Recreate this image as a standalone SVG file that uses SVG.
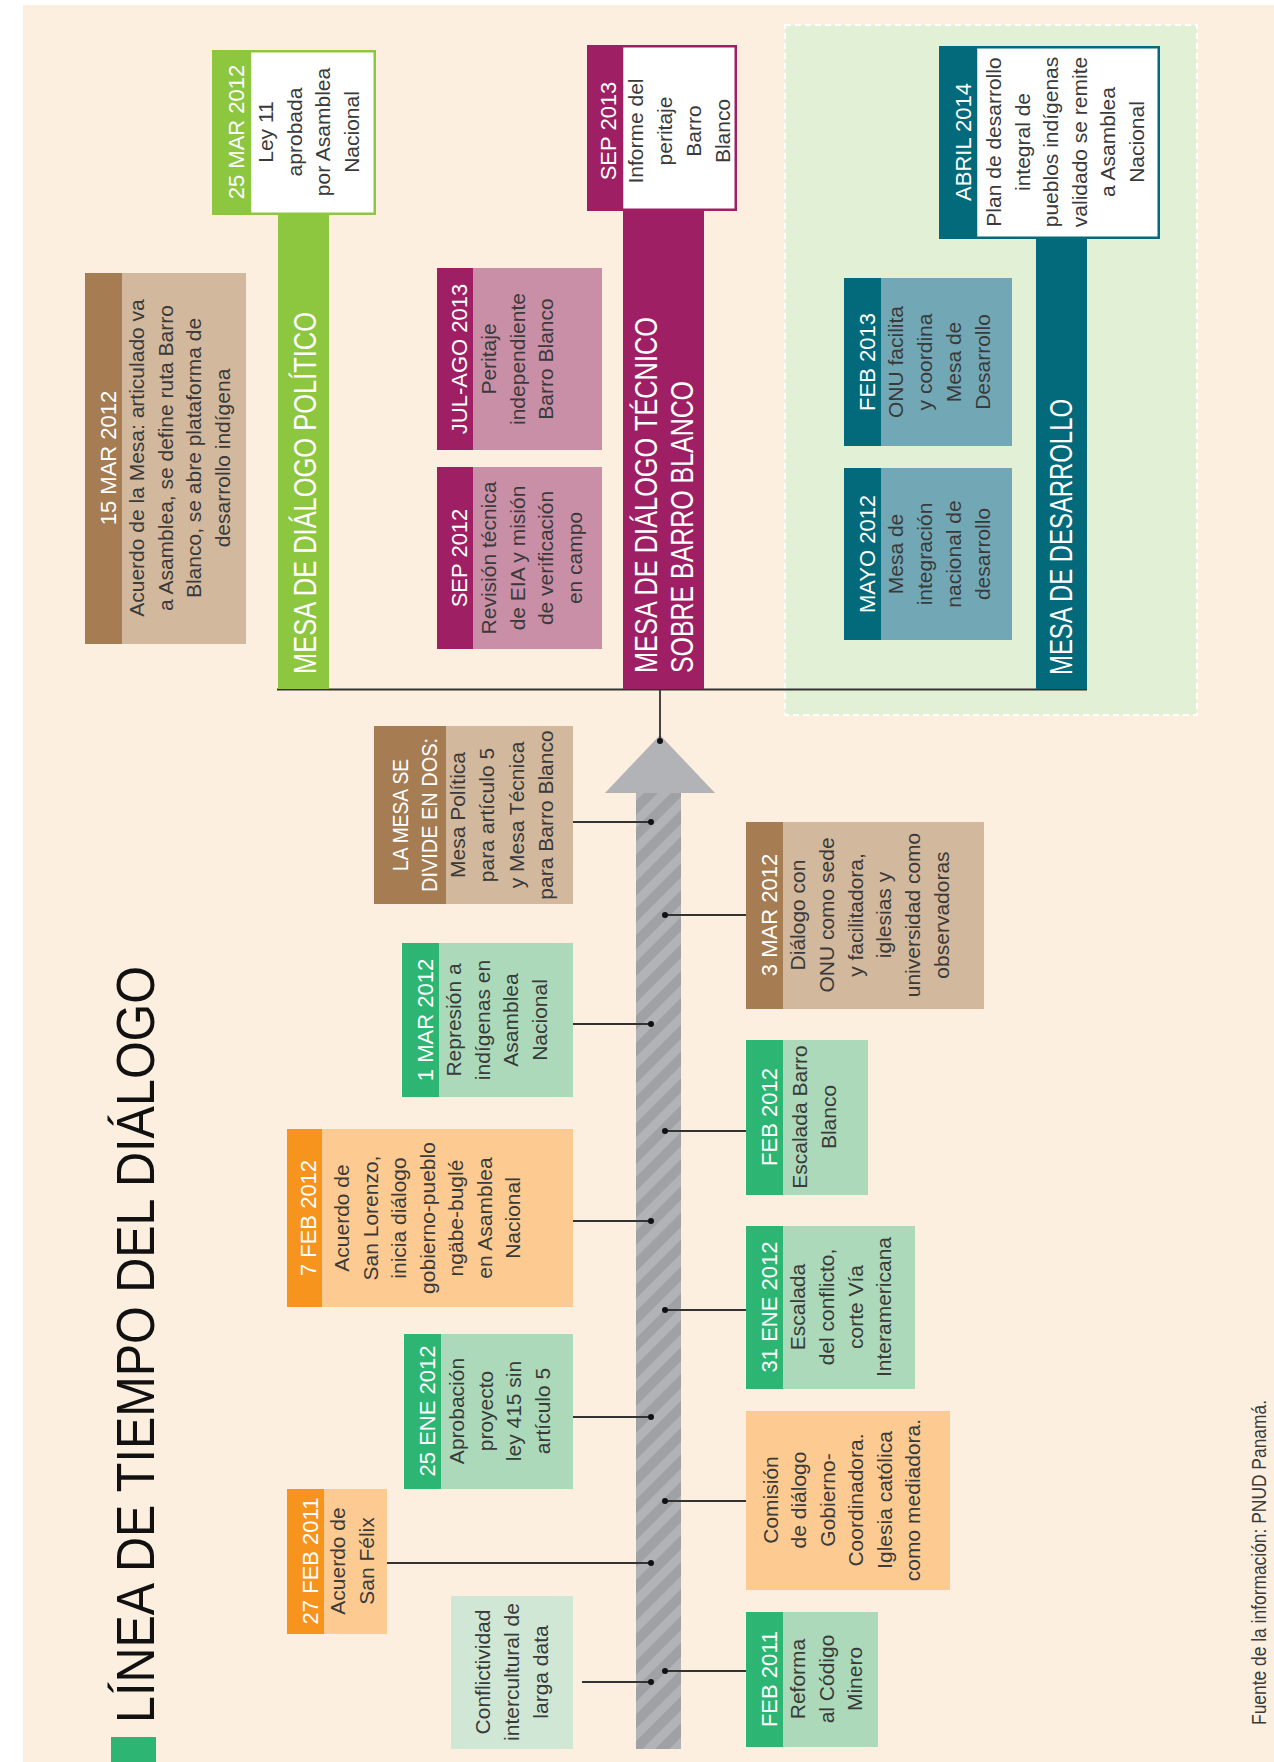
<svg xmlns="http://www.w3.org/2000/svg" width="1274" height="1762" viewBox="0 0 1274 1762">
  <defs>
    <pattern id="stripes" patternUnits="userSpaceOnUse" width="19" height="19" patternTransform="rotate(45)">
      <rect width="19" height="19" fill="#9FA1A5"/>
      <rect width="9" height="19" fill="#B1B3B6"/>
    </pattern>
    <style>
      text { font-family: "Liberation Sans", Arial, sans-serif; }
      .b { font-size: 21px; fill: #3a3a3a; text-anchor: middle; }
      .d { font-size: 22px; fill: #ffffff; text-anchor: middle; }
      .bar { font-size: 31px; fill: #ffffff; }
      .title { font-size: 54px; fill: #111111; }
      .src { font-size: 20px; fill: #3a3a3a; }
      .conn { stroke: #333333; stroke-width: 1.8; fill: none; }
      .dot { fill: #111111; }
      .brown { fill: #A67C52; }
      .tan { fill: #D2B89D; }
      .green { fill: #2DB673; }
      .mint { fill: #ABD9B9; }
      .orange { fill: #F7941D; }
      .peach { fill: #FDCB92; }
      .lime { fill: #8DC63F; }
      .magenta { fill: #9E1F63; }
      .pink { fill: #C98FA7; }
      .teal { fill: #026A7A; }
      .steel { fill: #72A8B5; }
    </style>
  </defs>

  <!-- page -->
  <rect x="0" y="0" width="1274" height="1762" fill="#ffffff"/>
  <rect x="23" y="5" width="1251" height="1757" fill="#FDEFE0"/>

  <!-- title -->
  <g id="title">
    <rect x="111" y="1737" width="45" height="25" fill="#2DB673"/>
    <text class="title" transform="translate(154,1723) rotate(-90)" textLength="757" lengthAdjust="spacingAndGlyphs">LÍNEA DE TIEMPO DEL DIÁLOGO</text>
  </g>

  <!-- development table area -->
  <rect id="zona-desarrollo" x="785" y="25" width="412" height="690" fill="#E2F0D6" stroke="#ffffff" stroke-width="2" stroke-dasharray="6 4"/>

  <!-- timeline axis -->
  <g id="eje">
    <rect x="636" y="792" width="45" height="957" fill="url(#stripes)"/>
    <polygon points="660,735 715,793 605,793" fill="#B1B3B6"/>
  </g>

  <!-- connectors -->
  <g id="conectores">
    <line class="conn" x1="277" y1="689.5" x2="1087" y2="689.5"/>
    <line class="conn" x1="660" y1="689.5" x2="660" y2="741"/>
    <circle class="dot" cx="660" cy="741" r="3"/>
    <!-- left side -->
    <line class="conn" x1="573" y1="822" x2="651" y2="822"/>
    <circle class="dot" cx="651" cy="822" r="3"/>
    <line class="conn" x1="573" y1="1024" x2="651" y2="1024"/>
    <circle class="dot" cx="651" cy="1024" r="3"/>
    <line class="conn" x1="573" y1="1221" x2="651" y2="1221"/>
    <circle class="dot" cx="651" cy="1221" r="3"/>
    <line class="conn" x1="573" y1="1417" x2="651" y2="1417"/>
    <circle class="dot" cx="651" cy="1417" r="3"/>
    <line class="conn" x1="387" y1="1563" x2="651" y2="1563"/>
    <circle class="dot" cx="651" cy="1563" r="3"/>
    <line class="conn" x1="582" y1="1682" x2="651" y2="1682"/>
    <circle class="dot" cx="651" cy="1682" r="3"/>
    <!-- right side -->
    <line class="conn" x1="665" y1="915" x2="746" y2="915"/>
    <circle class="dot" cx="665" cy="915" r="3"/>
    <line class="conn" x1="665" y1="1131" x2="746" y2="1131"/>
    <circle class="dot" cx="665" cy="1131" r="3"/>
    <line class="conn" x1="665" y1="1310" x2="746" y2="1310"/>
    <circle class="dot" cx="665" cy="1310" r="3"/>
    <line class="conn" x1="665" y1="1501" x2="746" y2="1501"/>
    <circle class="dot" cx="665" cy="1501" r="3"/>
    <line class="conn" x1="665" y1="1671" x2="746" y2="1671"/>
    <circle class="dot" cx="665" cy="1671" r="3"/>
  </g>

  <!-- political table -->
  <g id="mesa-politica">
    <rect class="lime" x="278" y="215" width="51" height="474"/>
    <text class="bar" transform="translate(316,674) rotate(-90)" textLength="362" lengthAdjust="spacingAndGlyphs">MESA DE DIÁLOGO POLÍTICO</text>
  </g>

  <g id="n-25mar2012">
    <rect class="lime" x="212" y="50" width="38" height="165"/>
    <rect x="250" y="51.25" width="124.75" height="162.5" fill="#ffffff" stroke="#8DC63F" stroke-width="2.5"/>
    <text class="d" transform="translate(244,132) rotate(-90)">25 MAR 2012</text>
    <text class="b" transform="translate(273,132) rotate(-90)"><tspan x="0" y="0">Ley 11</tspan><tspan x="0" dy="28.6">aprobada</tspan><tspan x="0" dy="28.6">por Asamblea</tspan><tspan x="0" dy="28.6">Nacional</tspan></text>
  </g>

  <g id="n-15mar2012">
    <rect class="brown" x="85" y="273" width="37" height="371"/>
    <rect class="tan" x="122" y="273" width="124" height="371"/>
    <text class="d" transform="translate(116,458) rotate(-90)">15 MAR 2012</text>
    <text class="b" transform="translate(144,458) rotate(-90)"><tspan x="0" y="0">Acuerdo de la Mesa: articulado va</tspan><tspan x="0" dy="28.7">a Asamblea, se define ruta Barro</tspan><tspan x="0" dy="28.7">Blanco, se abre plataforma de</tspan><tspan x="0" dy="28.7">desarrollo indígena</tspan></text>
  </g>

  <!-- technical table -->
  <g id="mesa-tecnica">
    <rect class="magenta" x="623" y="211" width="81" height="478"/>
    <text class="bar" transform="translate(657,673) rotate(-90)" textLength="356" lengthAdjust="spacingAndGlyphs">MESA DE DIÁLOGO TÉCNICO</text>
    <text class="bar" transform="translate(693,673) rotate(-90)" textLength="292" lengthAdjust="spacingAndGlyphs">SOBRE BARRO BLANCO</text>
  </g>

  <g id="n-sep2013">
    <rect class="magenta" x="587" y="45" width="36" height="166"/>
    <rect x="622" y="46.25" width="113.75" height="163.5" fill="#ffffff" stroke="#9E1F63" stroke-width="2.5"/>
    <text class="d" transform="translate(616,131) rotate(-90)">SEP 2013</text>
    <text class="b" transform="translate(643,131) rotate(-90)"><tspan x="0" y="0">Informe del</tspan><tspan x="0" dy="29">peritaje</tspan><tspan x="0" dy="29">Barro</tspan><tspan x="0" dy="29">Blanco</tspan></text>
  </g>

  <g id="n-julago2013">
    <rect class="magenta" x="437" y="268" width="36" height="182"/>
    <rect class="pink" x="473" y="268" width="129" height="182"/>
    <text class="d" transform="translate(467,359) rotate(-90)">JUL-AGO 2013</text>
    <text class="b" transform="translate(496,359) rotate(-90)"><tspan x="0" y="0">Peritaje</tspan><tspan x="0" dy="28.7">independiente</tspan><tspan x="0" dy="28.7">Barro Blanco</tspan></text>
  </g>

  <g id="n-sep2012">
    <rect class="magenta" x="437" y="467" width="36" height="182"/>
    <rect class="pink" x="473" y="467" width="129" height="182"/>
    <text class="d" transform="translate(467,558) rotate(-90)">SEP 2012</text>
    <text class="b" transform="translate(496,558) rotate(-90)"><tspan x="0" y="0">Revisión técnica</tspan><tspan x="0" dy="28.7">de EIA y misión</tspan><tspan x="0" dy="28.7">de verificación</tspan><tspan x="0" dy="28.7">en campo</tspan></text>
  </g>

  <!-- development table -->
  <g id="mesa-desarrollo">
    <rect class="teal" x="1036" y="239" width="51" height="450"/>
    <text class="bar" transform="translate(1072,675) rotate(-90)" textLength="276" lengthAdjust="spacingAndGlyphs">MESA DE DESARROLLO</text>
  </g>

  <g id="n-abril2014">
    <rect class="teal" x="939" y="46" width="37" height="193"/>
    <rect x="976" y="47.25" width="182.75" height="190.5" fill="#ffffff" stroke="#026A7A" stroke-width="2.5"/>
    <text class="d" transform="translate(971,142) rotate(-90)">ABRIL 2014</text>
    <text class="b" transform="translate(1001,142) rotate(-90)"><tspan x="0" y="0">Plan de desarrollo</tspan><tspan x="0" dy="28.6">integral de</tspan><tspan x="0" dy="28.6">pueblos indígenas</tspan><tspan x="0" dy="28.6">validado se remite</tspan><tspan x="0" dy="28.6">a Asamblea</tspan><tspan x="0" dy="28.6">Nacional</tspan></text>
  </g>

  <g id="n-feb2013">
    <rect class="teal" x="844" y="278" width="37" height="168"/>
    <rect class="steel" x="881" y="278" width="131" height="168"/>
    <text class="d" transform="translate(875,362) rotate(-90)">FEB 2013</text>
    <text class="b" transform="translate(903,362) rotate(-90)"><tspan x="0" y="0">ONU facilita</tspan><tspan x="0" dy="29">y coordina</tspan><tspan x="0" dy="29">Mesa de</tspan><tspan x="0" dy="29">Desarrollo</tspan></text>
  </g>

  <g id="n-mayo2012">
    <rect class="teal" x="844" y="468" width="37" height="172"/>
    <rect class="steel" x="881" y="468" width="131" height="172"/>
    <text class="d" transform="translate(875,554) rotate(-90)">MAYO 2012</text>
    <text class="b" transform="translate(903,554) rotate(-90)"><tspan x="0" y="0">Mesa de</tspan><tspan x="0" dy="29">integración</tspan><tspan x="0" dy="29">nacional de</tspan><tspan x="0" dy="29">desarrollo</tspan></text>
  </g>

  <!-- events left of the axis -->
  <g id="n-mesa-divide">
    <rect class="brown" x="374" y="726" width="72" height="178"/>
    <rect class="tan" x="446" y="726" width="127" height="178"/>
    <text class="d" transform="translate(408,815) rotate(-90)"><tspan x="0" y="0" textLength="112" lengthAdjust="spacingAndGlyphs">LA MESA SE</tspan><tspan x="0" dy="29" textLength="154" lengthAdjust="spacingAndGlyphs">DIVIDE EN DOS:</tspan></text>
    <text class="b" transform="translate(465,815) rotate(-90)"><tspan x="0" y="0">Mesa Política</tspan><tspan x="0" dy="29.3">para artículo 5</tspan><tspan x="0" dy="29.3">y Mesa Técnica</tspan><tspan x="0" dy="29.3">para Barro Blanco</tspan></text>
  </g>

  <g id="n-1mar2012">
    <rect class="green" x="402" y="943" width="37" height="154"/>
    <rect class="mint" x="439" y="943" width="134" height="154"/>
    <text class="d" transform="translate(433,1020) rotate(-90)">1 MAR 2012</text>
    <text class="b" transform="translate(461,1020) rotate(-90)"><tspan x="0" y="0">Represión a</tspan><tspan x="0" dy="28.7">indígenas en</tspan><tspan x="0" dy="28.7">Asamblea</tspan><tspan x="0" dy="28.7">Nacional</tspan></text>
  </g>

  <g id="n-7feb2012">
    <rect class="orange" x="287" y="1129" width="35" height="178"/>
    <rect class="peach" x="322" y="1129" width="251" height="178"/>
    <text class="d" transform="translate(316,1218) rotate(-90)">7 FEB 2012</text>
    <text class="b" transform="translate(349,1218) rotate(-90)"><tspan x="0" y="0">Acuerdo de</tspan><tspan x="0" dy="28.5">San Lorenzo,</tspan><tspan x="0" dy="28.5">inicia diálogo</tspan><tspan x="0" dy="28.5">gobierno-pueblo</tspan><tspan x="0" dy="28.5">ngäbe-buglé</tspan><tspan x="0" dy="28.5">en Asamblea</tspan><tspan x="0" dy="28.5">Nacional</tspan></text>
  </g>

  <g id="n-25ene2012">
    <rect class="green" x="404" y="1334" width="37" height="155"/>
    <rect class="mint" x="441" y="1334" width="132" height="155"/>
    <text class="d" transform="translate(435,1411) rotate(-90)">25 ENE 2012</text>
    <text class="b" transform="translate(464,1411) rotate(-90)"><tspan x="0" y="0">Aprobación</tspan><tspan x="0" dy="28.7">proyecto</tspan><tspan x="0" dy="28.7">ley 415 sin</tspan><tspan x="0" dy="28.7">artículo 5</tspan></text>
  </g>

  <g id="n-27feb2011">
    <rect class="orange" x="287" y="1489" width="37" height="145"/>
    <rect class="peach" x="324" y="1489" width="63" height="145"/>
    <text class="d" transform="translate(318,1561) rotate(-90)">27 FEB 2011</text>
    <text class="b" transform="translate(345,1561) rotate(-90)"><tspan x="0" y="0">Acuerdo de</tspan><tspan x="0" dy="28.5">San Félix</tspan></text>
  </g>

  <g id="n-conflictividad">
    <rect x="451" y="1596" width="122" height="153" fill="#CFE7D4"/>
    <text class="b" transform="translate(490,1672) rotate(-90)"><tspan x="0" y="0">Conflictividad</tspan><tspan x="0" dy="29">intercultural de</tspan><tspan x="0" dy="29">larga data</tspan></text>
  </g>

  <!-- events right of the axis -->
  <g id="n-3mar2012">
    <rect class="brown" x="746" y="822" width="37" height="187"/>
    <rect class="tan" x="783" y="822" width="201" height="187"/>
    <text class="d" transform="translate(777,915) rotate(-90)">3 MAR 2012</text>
    <text class="b" transform="translate(805,915) rotate(-90)"><tspan x="0" y="0">Diálogo con</tspan><tspan x="0" dy="28.8">ONU como sede</tspan><tspan x="0" dy="28.8">y facilitadora,</tspan><tspan x="0" dy="28.8">iglesias y</tspan><tspan x="0" dy="28.8">universidad como</tspan><tspan x="0" dy="28.8">observadoras</tspan></text>
  </g>

  <g id="n-feb2012">
    <rect class="green" x="746" y="1040" width="37" height="155"/>
    <rect class="mint" x="783" y="1040" width="85" height="155"/>
    <text class="d" transform="translate(777,1117) rotate(-90)">FEB 2012</text>
    <text class="b" transform="translate(807,1117) rotate(-90)"><tspan x="0" y="0">Escalada Barro</tspan><tspan x="0" dy="29">Blanco</tspan></text>
  </g>

  <g id="n-31ene2012">
    <rect class="green" x="746" y="1226" width="37" height="163"/>
    <rect class="mint" x="783" y="1226" width="132" height="163"/>
    <text class="d" transform="translate(777,1307) rotate(-90)">31 ENE 2012</text>
    <text class="b" transform="translate(805,1307) rotate(-90)"><tspan x="0" y="0">Escalada</tspan><tspan x="0" dy="28.8">del conflicto,</tspan><tspan x="0" dy="28.8">corte Vía</tspan><tspan x="0" dy="28.8">Interamericana</tspan></text>
  </g>

  <g id="n-comision">
    <rect class="peach" x="746" y="1411" width="204" height="179"/>
    <text class="b" transform="translate(778,1500) rotate(-90)"><tspan x="0" y="0">Comisión</tspan><tspan x="0" dy="28.4">de diálogo</tspan><tspan x="0" dy="28.4">Gobierno-</tspan><tspan x="0" dy="28.4">Coordinadora.</tspan><tspan x="0" dy="28.4">Iglesia católica</tspan><tspan x="0" dy="28.4">como mediadora.</tspan></text>
  </g>

  <g id="n-feb2011">
    <rect class="green" x="746" y="1612" width="37" height="135"/>
    <rect class="mint" x="783" y="1612" width="95" height="135"/>
    <text class="d" transform="translate(777,1679) rotate(-90)">FEB 2011</text>
    <text class="b" transform="translate(805,1679) rotate(-90)"><tspan x="0" y="0">Reforma</tspan><tspan x="0" dy="28.7">al Código</tspan><tspan x="0" dy="28.7">Minero</tspan></text>
  </g>

  <!-- source note -->
  <text class="src" transform="translate(1266,1725) rotate(-90)" textLength="325" lengthAdjust="spacingAndGlyphs">Fuente de la información: PNUD Panamá.</text>
</svg>
